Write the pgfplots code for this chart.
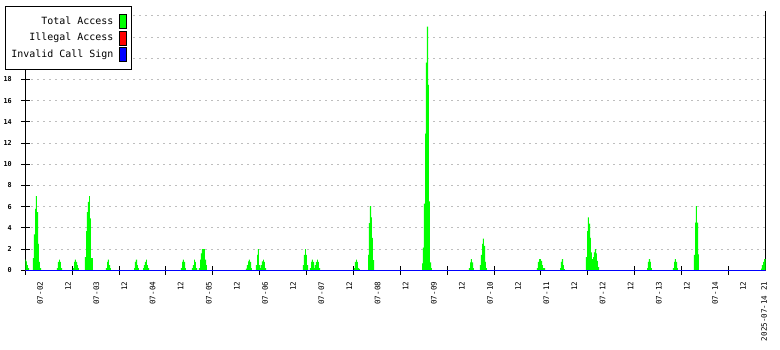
\documentclass[border=0pt]{standalone}
\usepackage{fontspec}
\setmainfont{DejaVu Sans Mono}
\usepackage{pgfplots}
\usepackage{pgfplotstable}
\pgfplotsset{compat=1.18}
\definecolor{tagreen}{RGB}{0,255,0}
\definecolor{gridgray}{RGB}{190,190,190}

% x = hours after 2025-07-02 00:00, y = accesses
\pgfplotstableread{
x y
-6.27 1.0
-5.97 0.85
-5.55 0.5
-5.12 0.2
-4.69 0
-2.99 1.15
-2.56 3.4
-2.13 5.8
-1.71 7.0
-1.28 5.5
-0.85 2.5
-0.43 0.8
0.00 0.2
0.43 0
7.25 0.2
7.68 0.8
8.11 1.0
8.53 0.8
8.96 0.2
9.39 0
14.08 0.2
14.51 0.8
14.93 1.0
15.36 0.8
15.79 0.5
16.21 0.2
16.64 0
19.20 1.25
19.63 3.7
20.05 5.5
20.48 6.45
20.91 7.0
21.33 4.9
21.76 1.15
22.19 1.15
22.61 0
28.16 0.2
28.59 0.8
29.01 1.0
29.44 0.5
29.87 0.2
30.29 0
40.11 0.2
40.53 0.8
40.96 1.0
41.39 0.5
41.81 0.2
42.24 0
43.95 0.2
44.37 0.5
44.80 0.8
45.23 1.0
45.65 0.5
46.08 0.2
46.51 0
60.16 0.2
60.59 0.8
61.01 1.0
61.44 0.8
61.87 0.2
62.29 0
64.85 0.2
65.28 0.5
65.71 1.0
66.13 0.8
66.56 0.2
66.99 0
67.84 0.2
68.27 1.0
68.69 1.6
69.12 2.0
69.55 2.0
69.97 2.0
70.40 1.0
70.83 0.5
71.25 0
87.89 0.15
88.32 0.5
88.75 0.85
89.17 1.0
89.60 0.8
90.03 0.2
90.45 0
92.16 0.5
92.59 1.45
93.01 2.0
93.44 0.5
93.87 0.2
94.29 0.5
94.72 0.85
95.15 1.0
95.57 0.8
96.00 0.2
96.43 0
112.21 0.5
112.64 1.45
113.07 2.0
113.49 1.45
113.92 0.5
114.35 0
115.20 0.2
115.63 0.8
116.05 1.0
116.48 0.8
116.91 0.2
117.33 0.5
117.76 0.8
118.19 1.0
118.61 0.8
119.04 0.2
119.47 0
133.97 0.2
134.40 0.8
134.83 1.0
135.25 0.8
135.68 0.2
136.11 0.1
136.53 0
139.95 1.45
140.37 4.45
140.80 6.05
141.23 5.0
141.65 3.05
142.08 0.95
142.51 0
162.99 0.65
163.41 2.15
163.84 6.3
164.27 12.9
164.69 19.6
165.12 23.0
165.55 17.5
165.97 6.5
166.40 0.75
166.83 0.2
167.25 0
183.04 0.2
183.47 0.75
183.89 1.05
184.32 0.75
184.75 0.2
185.17 0
187.73 0.5
188.16 1.45
188.59 2.5
189.01 3.0
189.44 2.3
189.87 0.8
190.29 0.2
190.72 0
212.05 0.2
212.48 0.8
212.91 1.05
213.33 1.05
213.76 0.9
214.19 0.5
214.61 0.2
215.47 0
221.87 0.2
222.29 0.8
222.72 1.05
223.15 0.5
223.57 0.1
224.00 0
232.96 1.25
233.39 3.7
233.81 5.0
234.24 4.4
234.67 3.05
235.09 1.7
235.52 1.05
235.95 1.25
236.37 1.7
236.80 2.0
237.23 1.6
237.65 0.9
238.08 0.3
238.51 0
258.99 0.2
259.41 0.8
259.84 1.05
260.27 0.8
260.69 0.2
261.12 0
270.08 0.2
270.51 0.8
270.93 1.05
271.36 0.8
271.79 0.2
272.21 0
279.04 1.45
279.47 4.5
279.89 6.05
280.32 4.5
280.75 1.5
281.17 0
307.63 0.15
308.05 0.5
308.48 0.8
308.91 1.05
309.55 1.05
}\totalaccess

\pgfplotstableread{
x y
-6.27 0
309.55 0
}\zeroseries

\begin{document}
\begin{tikzpicture}
\useasboundingbox (-25.3bp,-79.7bp) rectangle (754.7bp,270.3bp);
\begin{axis}[
  at={(0,0)}, anchor=south west,
  scale only axis, width=740.2bp, height=259.7bp,
  xmin=-6.27, xmax=309.55, ymin=0, ymax=24.5,
  axis x line*=bottom, axis y line*=box,
  axis line style={-, line width=1bp, black},
  /pgf/number format/assume math mode=true,
  ytick={0,2,...,24},
  yticklabels={0,2,4,6,8,10,12,14,16,18,{},{},{}},
  ytick pos=left,
  ymajorgrids,
  grid style={gridgray, dash pattern=on 2bp off 4bp, line width=1bp},
  tick align=center, major tick length=9bp,
  tick style={black, line width=1bp},
  yticklabel style={font=\fontsize{6.8}{7}\selectfont\bfseries, xshift=-5.5bp},
  xtick={-6.27,13.73,...,300},
  xticklabels={},
  xtick pos=bottom,
  extra x ticks={0,12,...,300,309},
  extra x tick labels={07-02,12,07-03,12,07-04,12,07-05,12,07-06,12,07-07,12,07-08,12,07-09,12,07-10,12,07-11,12,07-12,12,07-13,12,07-14,12,2025-07-14 21},
  extra x tick style={major tick length=0pt,
    xticklabel style={rotate=90, anchor=east, font=\fontsize{7.6}{8}\selectfont, xshift=-8bp}},
  legend plot pos=right,
  legend cell align=right,
  legend image code/.code={\draw[#1, draw=black, line width=0.8bp] (0bp,-7bp) rectangle (7bp,7bp);},
  legend style={at={(0,1)}, anchor=north west, xshift=-20.3bp, yshift=4.9bp,
    draw=black, line width=1bp, fill=white,
    font=\fontsize{10}{12}\selectfont, row sep=1.5bp, column sep=4bp,
    inner xsep=4bp, inner ysep=8bp},
]
\addplot[fill=tagreen, draw=none, const plot, forget plot] table[x=x, y=y] {\totalaccess} \closedcycle;
\addplot[red, line width=1.2bp, forget plot] table[x=x, y=y] {\zeroseries};
\addplot[blue, line width=1.2bp, forget plot] table[x=x, y=y] {\zeroseries};
\addlegendimage{fill=tagreen}
\addlegendentry{Total Access}
\addlegendimage{fill=red}
\addlegendentry{Illegal Access}
\addlegendimage{fill=blue}
\addlegendentry{Invalid Call Sign}
\end{axis}
\end{tikzpicture}
\end{document}
